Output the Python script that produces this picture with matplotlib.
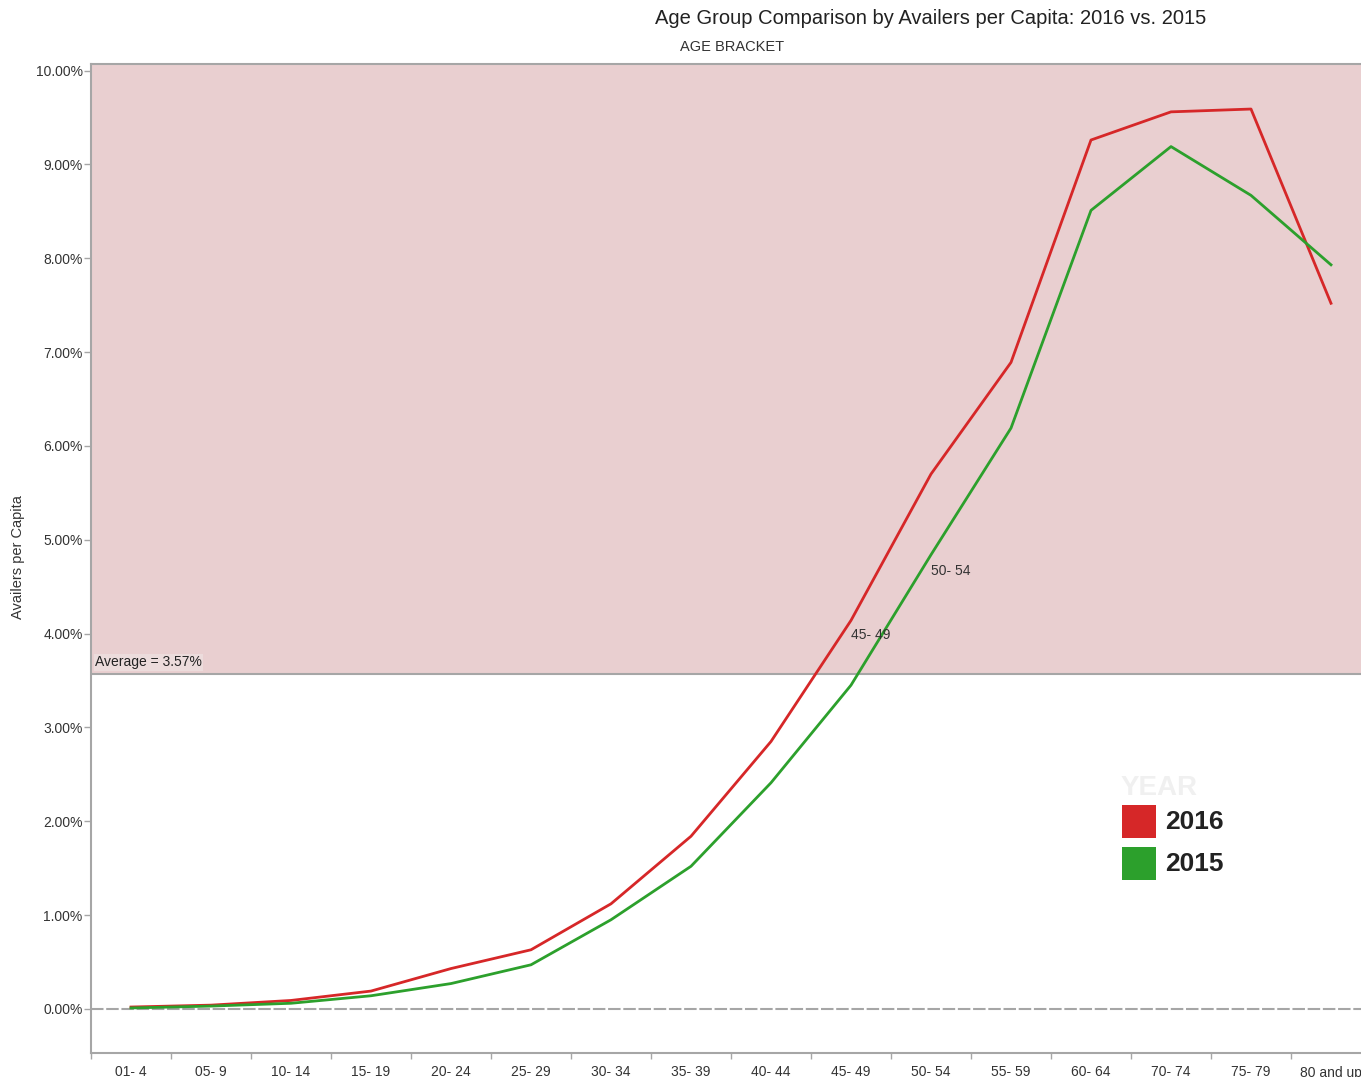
import matplotlib
matplotlib.use("Agg")
import matplotlib.pyplot as plt
from matplotlib.patches import Rectangle
from matplotlib.ticker import FuncFormatter, FixedLocator
import numpy as np

plt.rcParams['font.family'] = ['Liberation Sans', 'DejaVu Sans']

categories = ["01- 4", "05- 9", "10- 14", "15- 19", "20- 24", "25- 29", "30- 34",
              "35- 39", "40- 44", "45- 49", "50- 54", "55- 59", "60- 64", "70- 74",
              "75- 79", "80 and up"]
values_2016 = [0.02, 0.04, 0.09, 0.19, 0.43, 0.63, 1.12, 1.84, 2.85, 4.14, 5.70,
               6.89, 9.26, 9.56, 9.59, 7.52]
values_2015 = [0.01, 0.03, 0.06, 0.14, 0.27, 0.47, 0.95, 1.52, 2.41, 3.45, 4.84,
               6.19, 8.51, 9.19, 8.67, 7.93]
average = 3.57
yticks = [0, 1, 2, 3, 4, 5, 6, 7, 8, 9, 10]

RED = "#d62728"
GREEN = "#2ca02c"
GRAY = "#a6a6a6"

fig = plt.figure(figsize=(13.61, 10.77), dpi=100)
ax = fig.add_axes([91/1361, 1 - 1053/1077, 1 - 91/1361, (1053 - 64)/1077])

x = np.arange(len(categories))
ax.set_xlim(-0.5, (1361 - 91)/80 - 0.5)
ax.set_ylim(-0.47, 10.07)

# shaded region above average
ax.axhspan(average, 10.07, color="#e9cfd0", zorder=0, lw=0)
ax.axhline(average, color=GRAY, lw=1.5, zorder=1)
ax.axhline(0, color=GRAY, lw=1.5, ls=(0, (6, 1.3)), zorder=1)

ax.plot(x, values_2016, color=RED, lw=2.0, zorder=3)
ax.plot(x, values_2015, color=GREEN, lw=2.0, zorder=3)

ax.text(-0.45, average + 0.05, "Average = 3.57%", fontsize=10, ha="left", va="bottom",
        color="#222222", zorder=4,
        bbox=dict(facecolor="#ecdcdc", edgecolor="none", pad=1.0))

ax.text(9 + 0.0, 3.99, "45- 49", fontsize=10, ha="left", va="center", color="#333333", zorder=4)
ax.text(10 + 0.0, 4.67, "50- 54", fontsize=10, ha="left", va="center", color="#333333", zorder=4)

# axes styling
for s in ["left", "top", "bottom"]:
    ax.spines[s].set_color(GRAY)
    ax.spines[s].set_linewidth(1.5)
ax.spines["right"].set_visible(False)

ax.set_yticks(yticks)
ax.yaxis.set_major_formatter(FuncFormatter(lambda v, p: f"{v:.2f}%"))
ax.tick_params(axis="y", direction="out", length=5, width=1, color=GRAY,
               labelsize=10, labelcolor="#333333", pad=1)

ax.set_xticks(x)
ax.set_xticklabels(categories)
ax.xaxis.set_minor_locator(FixedLocator(np.arange(-0.5, 16, 1)))
ax.tick_params(axis="x", which="major", length=0, labelsize=10, labelcolor="#333333", pad=9)
ax.tick_params(axis="x", which="minor", direction="out", length=4, width=1, color=GRAY, pad=2)

fig.text(18/1361, 1 - 557/1077, "Availers per Capita", fontsize=10.5, rotation=90,
         ha="center", va="center", color="#333333")

fig.text(931/1361, 1 - 18/1077, "Age Group Comparison by Availers per Capita: 2016 vs. 2015",
         fontsize=14.5, ha="center", va="center", color="#222222")
fig.text(732/1361, 1 - 47/1077, "AGE BRACKET", fontsize=10.5, ha="center", va="center",
         color="#333333")

# legend
fig.text(1159/1361, 1 - 788/1077, "YEAR", fontsize=20, fontweight="bold", ha="center",
         va="center", color="#f0f0f0")
for i, (lab, col) in enumerate([("2016", RED), ("2015", GREEN)]):
    y0 = 1 - (838 + 42*i)/1077
    fig.patches.append(Rectangle((1122/1361, y0), 34/1361, 33/1077, transform=fig.transFigure,
                                 facecolor=col, edgecolor="none", zorder=5))
    fig.text(1165/1361, y0 + 16/1077, lab, fontsize=19, fontweight="bold", ha="left",
             va="center", color="#222222", zorder=5)

fig.savefig("out.png", dpi=100)
